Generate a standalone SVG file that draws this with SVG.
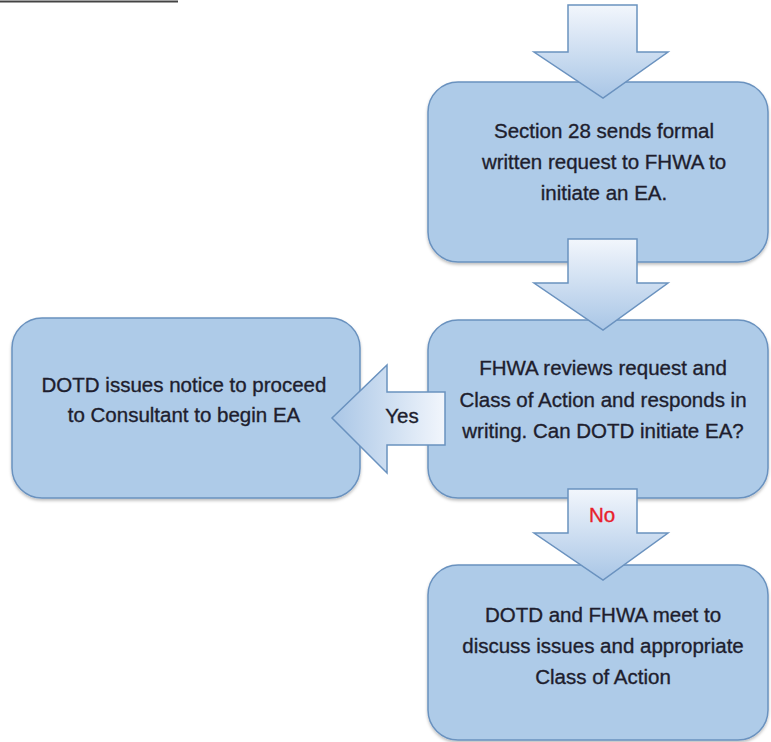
<svg xmlns="http://www.w3.org/2000/svg" width="771" height="742" viewBox="0 0 771 742">
<defs>
<linearGradient id="gDown" x1="0" y1="0" x2="0" y2="1">
<stop offset="0" stop-color="#f2f6fc"/>
<stop offset="1" stop-color="#a9c6e6"/>
</linearGradient>
<linearGradient id="gLeft" x1="1" y1="0" x2="0" y2="0">
<stop offset="0" stop-color="#f2f6fc"/>
<stop offset="1" stop-color="#a9c6e6"/>
</linearGradient>
<filter id="sh" x="-5%" y="-5%" width="110%" height="115%">
<feDropShadow dx="0" dy="2" stdDeviation="1.5" flood-color="#000" flood-opacity="0.25"/>
</filter>
</defs>
<style>
.box{fill:#aecbe8;stroke:#6a92bf;stroke-width:1.5;filter:url(#sh)}
.arr{stroke:#6a92bf;stroke-width:1.5;stroke-linejoin:miter}
.t{font-family:"Liberation Sans",Arial,sans-serif;font-size:20.5px;fill:#1e1e2e;stroke:#1e1e2e;stroke-width:0.35;text-anchor:middle}
.no{fill:#e8202a;stroke:#e8202a}
</style>
<rect width="771" height="742" fill="#ffffff"/>
<line x1="0" y1="1.5" x2="178" y2="1.5" stroke="#444" stroke-width="1.8"/>
<g id="n1">
<rect class="box" x="428" y="82" width="340" height="180" rx="30"/>
<text class="t" x="604" y="138">Section 28 sends formal</text>
<text class="t" x="604" y="169">written request to FHWA to</text>
<text class="t" x="604" y="200">initiate an EA.</text>
</g>
<g id="n2">
<rect class="box" x="428" y="320" width="340" height="178" rx="30"/>
<text class="t" x="603" y="375">FHWA reviews request and</text>
<text class="t" x="603" y="407">Class of Action and responds in</text>
<text class="t" x="603" y="438">writing. Can DOTD initiate EA?</text>
</g>
<g id="n3">
<rect class="box" x="12" y="318" width="348" height="180" rx="30"/>
<text class="t" x="184" y="392">DOTD issues notice to proceed</text>
<text class="t" x="184" y="422">to Consultant to begin EA</text>
</g>
<g id="n4">
<rect class="box" x="428" y="565" width="340" height="175" rx="30"/>
<text class="t" x="603" y="622">DOTD and FHWA meet to</text>
<text class="t" x="603" y="653">discuss issues and appropriate</text>
<text class="t" x="603" y="684">Class of Action</text>
</g>
<g id="connectors">
<polygon class="arr" fill="url(#gDown)" points="568,5 637,5 637,52 668,52 603,98 534,52 568,52"/>
<polygon class="arr" fill="url(#gDown)" points="568,239 637,239 637,283 668,283 603,330 534,283 568,283"/>
<polygon class="arr" fill="url(#gLeft)" points="445,392 445,445 387,445 387,473 332,418 387,365 387,392"/>
<text class="t" x="402" y="423">Yes</text>
<polygon class="arr" fill="url(#gDown)" points="568,489 637,489 637,533 668,533 603,580 534,533 568,533"/>
<text class="t no" x="602" y="522">No</text>
</g>
</svg>
